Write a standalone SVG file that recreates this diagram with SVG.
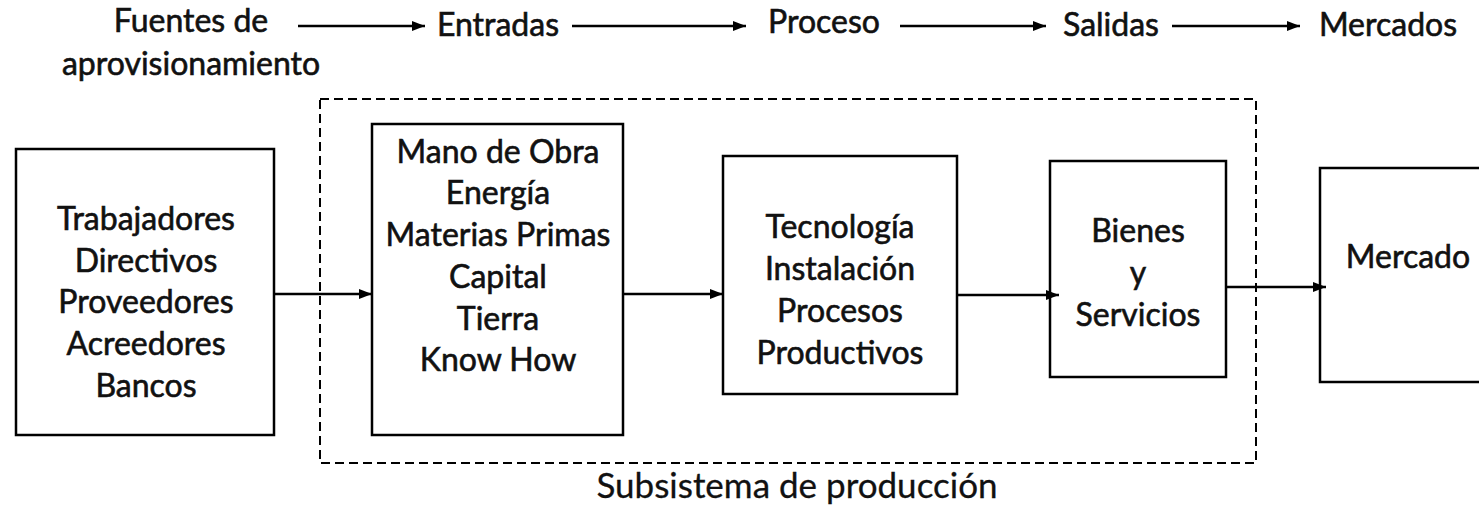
<svg xmlns="http://www.w3.org/2000/svg" width="1479" height="506" viewBox="0 0 1479 506">
<defs>
<marker id="ah" viewBox="0 0 13 10" refX="13" refY="5" markerWidth="13" markerHeight="10" markerUnits="userSpaceOnUse" orient="auto">
<path d="M0,0 L13,5 L0,10 Z" fill="#000"/>
</marker>
</defs>
<style>
text{font-family:Lato,"Liberation Sans",sans-serif;font-size:32px;fill:#111;stroke:#111;stroke-width:0.6;text-anchor:middle}
.box{fill:#fff;stroke:#000;stroke-width:2.5}
.dash{fill:none;stroke:#000;stroke-width:2;stroke-dasharray:9 5}
.conn{stroke:#000;stroke-width:2.4;fill:none;marker-end:url(#ah)}
.sub{font-size:35px;stroke-width:0.3}
</style>
<rect width="1479" height="506" fill="#fff"/>
<g id="header">
<text x="191" y="32">Fuentes de</text>
<text x="191" y="75">aprovisionamiento</text>
<text x="498" y="36">Entradas</text>
<text x="824" y="33">Proceso</text>
<text x="1111" y="36">Salidas</text>
<text x="1388" y="36">Mercados</text>
</g>
<g id="subsistema">
<rect class="dash" x="320" y="99" width="936" height="364"/>
<text class="sub" x="797" y="498">Subsistema de producción</text>
</g>
<g id="fuentes">
<rect class="box" x="16" y="149" width="258" height="286"/>
<text x="146" y="230">Trabajadores</text>
<text x="146" y="272">Directivos</text>
<text x="146" y="313">Proveedores</text>
<text x="146" y="355">Acreedores</text>
<text x="146" y="397">Bancos</text>
</g>
<g id="entradas">
<rect class="box" x="372" y="124" width="251" height="311"/>
<text x="498" y="163">Mano de Obra</text>
<text x="498" y="204">Energía</text>
<text x="498" y="246">Materias Primas</text>
<text x="498" y="288">Capital</text>
<text x="498" y="330">Tierra</text>
<text x="498" y="371">Know How</text>
</g>
<g id="proceso">
<rect class="box" x="723" y="156" width="234" height="238"/>
<text x="840" y="238">Tecnología</text>
<text x="840" y="280">Instalación</text>
<text x="840" y="322">Procesos</text>
<text x="840" y="364">Productivos</text>
</g>
<g id="salidas">
<rect class="box" x="1050" y="161" width="176" height="216"/>
<text x="1138" y="242">Bienes</text>
<text x="1138" y="284">y</text>
<text x="1138" y="326">Servicios</text>
</g>
<g id="mercado">
<rect class="box" x="1320" y="168" width="170" height="214"/>
<text x="1408" y="268">Mercado</text>
</g>
<g id="connectors">
<line class="conn" x1="298" y1="26" x2="425" y2="26"/>
<line class="conn" x1="572" y1="26" x2="746" y2="26"/>
<line class="conn" x1="900" y1="26" x2="1046" y2="26"/>
<line class="conn" x1="1172" y1="26" x2="1300" y2="26"/>
<line class="conn" x1="275" y1="294" x2="372" y2="294"/>
<line class="conn" x1="624" y1="294" x2="723" y2="294"/>
<line class="conn" x1="958" y1="295" x2="1059" y2="295"/>
<line class="conn" x1="1227" y1="287" x2="1326" y2="287"/>
</g>
</svg>
